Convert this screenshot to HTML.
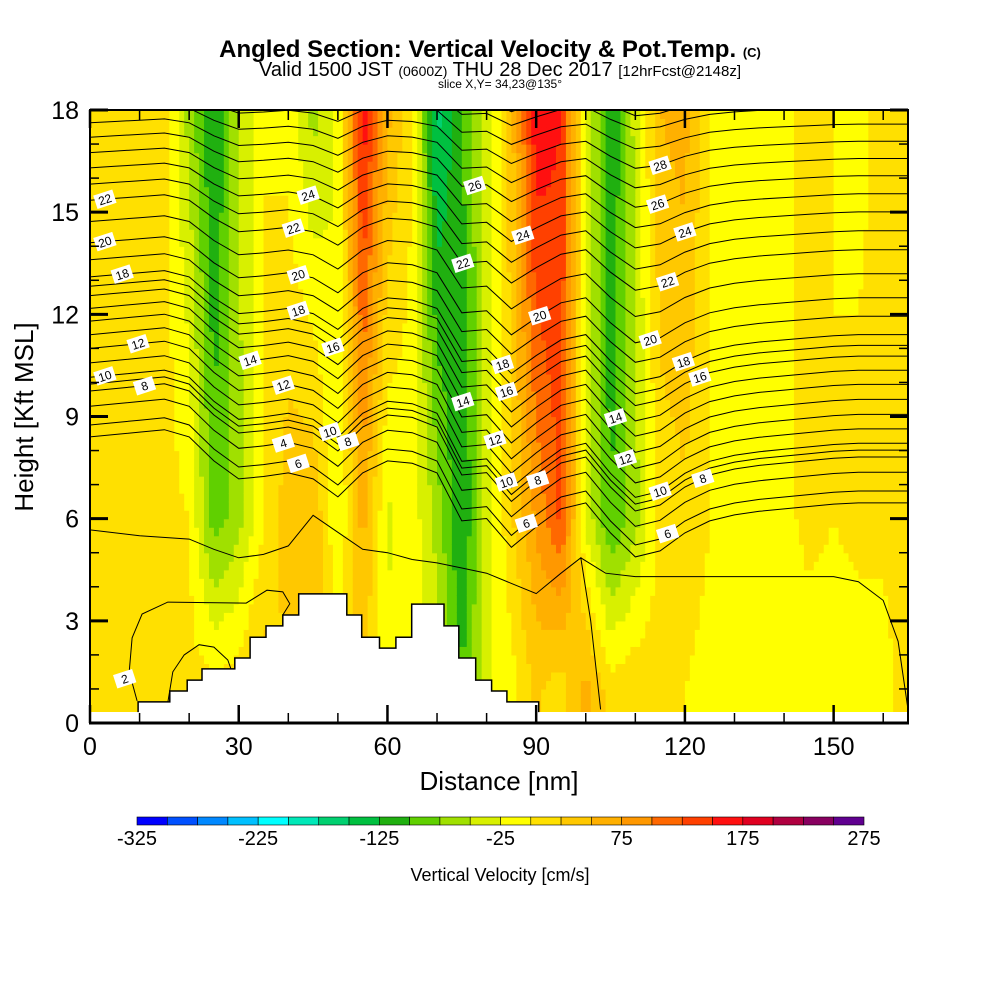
<!DOCTYPE html>
<html><head><meta charset="utf-8">
<style>
html,body{margin:0;padding:0;background:#fff;}
svg{display:block;font-family:"Liberation Sans",sans-serif;}
</style></head>
<body>
<svg id="chart" width="1000" height="1000" viewBox="0 0 1000 1000" xmlns="http://www.w3.org/2000/svg">
<defs><clipPath id="plotclip"><rect x="90" y="110" width="818" height="602"/></clipPath></defs>
<rect width="1000" height="1000" fill="#fff"/>
<g>
<text x="490" y="57" text-anchor="middle" font-size="24" font-weight="bold">Angled Section: Vertical Velocity &amp; Pot.Temp. <tspan font-size="13">(C)</tspan></text>
<text x="500" y="76" text-anchor="middle" font-size="20">Valid 1500 JST <tspan font-size="14">(0600Z)</tspan> THU 28 Dec 2017 <tspan font-size="15">[12hrFcst@2148z]</tspan></text>
<text x="500" y="88" text-anchor="middle" font-size="12">slice X,Y= 34,23@135°</text>
</g>
<g id="field" clip-path="url(#plotclip)"></g>
<g id="contours" clip-path="url(#plotclip)"></g>
<g id="terrain"></g>
<g id="labels" clip-path="url(#plotclip)"></g>
<g id="axes"></g>
<text x="499" y="790" text-anchor="middle" font-size="26">Distance [nm]</text>
<text transform="translate(33,417) rotate(-90)" text-anchor="middle" font-size="26">Height [Kft MSL]</text>
<g id="colorbar"></g>
<text x="500" y="881" text-anchor="middle" font-size="18">Vertical Velocity [cm/s]</text>
</svg>
<script>
// ---- data ----
const profileNm = [0,5,10,15,20,25,30,35,40,45,50,55,60,65,70,75,80,85,90,95,100,105,110,115,120,125,130,135,140,145,150,155,160,165];
const upperW = [10,10,15,10,-60,-130,-50,0,-10,-60,-20,170,60,0,-160,-100,-40,40,170,150,-20,-130,-40,50,60,0,-10,-5,-5,5,0,-5,5,5];
const lowerW = [15,15,10,10,0,-90,-60,0,40,50,-30,60,-30,-10,-60,-130,-40,20,80,130,-30,-100,-60,10,20,0,-10,-5,-5,5,0,5,5,20];
const bottomW = [15,15,15,15,10,10,15,40,15,50,20,30,-20,0,-30,-100,-30,-10,30,10,60,10,20,10,0,-10,-10,-10,-10,-10,-10,-10,-10,10];
const thetaDisp = [0,-2,-4,-6,0,20,35,33,30,35,50,30,20,22,30,70,68,92,75,60,55,80,100,95,80,70,65,62,60,58,56,55,55,55];
const thetaBaseLevels = [4,5,6,7,8,9,10,12,14,16,18,20,22,24,26,28,30,32];
const thetaBaseHeight = [9.3,8.4,8.75,9.3,9.75,9.95,10.15,11.0,11.8,12.55,13.1,14.1,15.35,16.3,17.2,18.05,18.9,19.7];
const labelTheta = [22,20,18,12,10,8,14,12,22,20,18,24,16,10,8,6,4,26,24,22,20,18,16,14,12,10,8,6,28,26,24,22,20,18,16,14,12,10,8,6];
const labelNm = [3,3,6.5,9.7,3,11,32.3,39,41,42,42,44,49,48.4,52,42,39,77.6,87.3,75.2,90.7,83.2,84,75.2,81.7,84,90.3,88,115,114.5,120,116.5,113,119.7,123,106,108,115,123.6,116.5];
const low4Nm = [0,10,20,25,30,35,40,45,50,55,60,65,70,75,80,85,90,95,99,101,103];
const low4Kft = [5.67,5.5,5.4,5.1,4.85,4.95,5.2,6.1,5.6,5.1,5.0,4.8,4.7,4.55,4.4,4.1,3.8,4.4,4.85,3.0,0.4];
const low4bNm = [99,104,110,120,130,140,150,155,160,163,165];
const low4bKft = [4.85,4.4,4.3,4.3,4.3,4.3,4.3,4.15,3.6,2.4,0.4];
const low2Nm = [9.5,7.9,8.5,10.5,15.7,31.5,35.7,38.9,40.3,38.9];
const low2Kft = [0.65,1.5,2.5,3.2,3.55,3.52,3.9,3.85,3.5,3.17];
const low3Nm = [15.7,16.7,19,22,25,27.8,28.4];
const low3Kft = [0.6,1.5,2.0,2.3,2.23,1.85,1.6];
const terrainNm = [0,9.7,16.1,19.6,22.6,29.2,32.3,35.5,38.9,42.1,51.8,54.8,58.4,61.7,64.9,71.4,74.4,77.8,81,84.1,90.5,165];
const terrainKft = [0.32,0.62,0.94,1.26,1.59,1.91,2.52,2.85,3.17,3.79,3.17,2.52,2.2,2.52,3.49,2.85,1.91,1.26,0.94,0.62,0.32,0.32];
const xTicks = [0,30,60,90,120,150];
const yTicks = [0,3,6,9,12,15,18];
const cbarLabels = [-325,-225,-125,-25,75,175,275];
const palette = ["#0000ff","#0050ff","#0088ff","#00c0ff","#00ffff","#00e8b8","#00d070","#00c040","#20b010","#60d000","#a0e000","#d8f000","#ffff00","#ffe000","#ffc800","#ffb000","#ff9800","#ff6800","#ff4000","#ff1010","#e00020","#b00040","#880060","#600090"];

// ---- scales ----
const X = nm => 90 + nm * (818/165);
const Y = k => 723 - k * (613/18);
const NS = "http://www.w3.org/2000/svg";
function mk(tag, attrs, parent){const e=document.createElementNS(NS,tag);for(const k in attrs)e.setAttribute(k,attrs[k]);parent.appendChild(e);return e;}
function interp(xs, ys, x){
  if(x<=xs[0])return ys[0];
  for(let i=1;i<xs.length;i++){if(x<=xs[i]){const t=(x-xs[i-1])/(xs[i]-xs[i-1]);return ys[i-1]+t*(ys[i]-ys[i-1]);}}
  return ys[ys.length-1];
}
function colorFor(v){let i=Math.floor((v+325)/25);i=Math.max(0,Math.min(palette.length-1,i));return palette[i];}

// ---- field ----
const field=document.getElementById('field');
const dn=1, dk=0.25;
for(let nm=0;nm<165;nm+=dn){
  const c=nm+dn/2;
  const u=interp(profileNm,upperW,c), l=interp(profileNm,lowerW,c), b=interp(profileNm,bottomW,c);
  for(let k=0;k<18;k+=dk){
    const kc=k+dk/2;let v;
    if(kc<=1)v=b;else if(kc<=6)v=b+(l-b)*(kc-1)/5;else v=l+(u-l)*(kc-6)/12;
    const r=mk('rect',{x:X(nm).toFixed(2),y:Y(k+dk).toFixed(2),width:(X(nm+dn)-X(nm)+0.6).toFixed(2),height:(Y(k)-Y(k+dk)+0.6).toFixed(2),fill:colorFor(v)},field);
    
    
  }
}

// ---- contours ----
const cont=document.getElementById('contours');
function amp(th){if(th<=12)return 1.2;if(th<=20)return 1.2-0.2*(th-12)/8;return Math.max(0.5,1.0-0.5*(th-20)/10);}
function thetaY(th,nm){return Y(interp(thetaBaseLevels,thetaBaseHeight,th))+interp(profileNm,thetaDisp,nm)*amp(th);}
for(let th=5;th<=32;th+=1){
  let d='';
  for(let i=0;i<profileNm.length;i++){d+=(i?'L':'M')+X(profileNm[i]).toFixed(1)+','+thetaY(th,profileNm[i]).toFixed(1);}
  const p=mk('path',{d:d,fill:'none',stroke:'#000','stroke-width':1},cont);
  
  
}
function lowLine(nms,ks){
  let d='';for(let i=0;i<nms.length;i++)d+=(i?'L':'M')+X(nms[i]).toFixed(1)+','+Y(ks[i]).toFixed(1);
  const p=mk('path',{d:d,fill:'none',stroke:'#000','stroke-width':1},cont);
  
  
}
lowLine(low4Nm,low4Kft);lowLine(low4bNm,low4bKft);lowLine(low2Nm,low2Kft);lowLine(low3Nm,low3Kft);

// ---- terrain ----
const ter=document.getElementById('terrain');
let td='M'+X(0)+','+Y(0);
let od='';
for(let i=0;i<terrainNm.length-1;i++){
  td+='L'+X(terrainNm[i]).toFixed(1)+','+Y(terrainKft[i]).toFixed(1)+'L'+X(terrainNm[i+1]).toFixed(1)+','+Y(terrainKft[i]).toFixed(1);
  if(i>0&&i<terrainNm.length-2){od+=(od?'L':'M')+X(terrainNm[i]).toFixed(1)+','+Y(terrainKft[i-1]).toFixed(1)+'L'+X(terrainNm[i]).toFixed(1)+','+Y(terrainKft[i]).toFixed(1)+'L'+X(terrainNm[i+1]).toFixed(1)+','+Y(terrainKft[i]).toFixed(1);}
}
od+='L'+X(terrainNm[terrainNm.length-2]).toFixed(1)+','+Y(terrainKft[terrainNm.length-2]).toFixed(1);
td+='L'+X(165)+','+Y(0)+'Z';
const tp=mk('path',{d:td,fill:'#fff',stroke:'none'},ter);


const to=mk('path',{d:od,fill:'none',stroke:'#000','stroke-width':1.5},ter);



// ---- contour labels ----
const lab=document.getElementById('labels');
function addLabel(txt,x,y){
  const g=mk('g',{transform:'translate('+x.toFixed(1)+','+y.toFixed(1)+') rotate(-18)'},lab);
  
  
  mk('rect',{x:-10,y:-7,width:20,height:14,fill:'#fff'},g);
  const t=mk('text',{x:0,y:4.5,'text-anchor':'middle','font-size':12},g);t.textContent=txt;
}
for(let i=0;i<labelTheta.length;i++){
  const th=labelTheta[i],nm=labelNm[i];
  let y;
  if(th<=4) y = nm<60 ? thetaY(4,nm) : Y(interp(low4Nm,low4Kft,nm));
  else y=thetaY(th,nm);
  addLabel(String(th),X(nm),y);
}
addLabel('2',X(7),Y(1.3));

// ---- axes ----
const ax=document.getElementById('axes');
function ln(x1,y1,x2,y2,w,name){const l=mk('line',{x1:x1,y1:y1,x2:x2,y2:y2,stroke:'#000','stroke-width':w},ax);}
ln(90,110,90,724,2,'y-axis-line');ln(908,110,908,724,2,'y-axis-line-right');
ln(89,110,909,110,2,'x-axis-line-top');ln(89,723,909,723,3,'x-axis-line');
for(let k=0;k<=18;k+=1){const maj=k%3===0,len=maj?18:9;ln(90,Y(k),90+len,Y(k),maj?3:1.5,'y-tick');ln(908,Y(k),908-len,Y(k),maj?3:1.5,'y-tick-right');}
for(let n=0;n<=160;n+=10){const maj=n%30===0,len=maj?18:10;ln(X(n),723,X(n),723-len,maj?2.5:1.5,'x-tick');ln(X(n),110,X(n),110+len,maj?2.5:1.5,'x-tick-top');}
yTicks.forEach(v=>{const t=mk('text',{x:79,y:Y(v)+9,'text-anchor':'end','font-size':25},ax);t.textContent=v;});
xTicks.forEach(v=>{const t=mk('text',{x:X(v),y:755,'text-anchor':'middle','font-size':25},ax);t.textContent=v;});

// ---- colorbar ----
const cb=document.getElementById('colorbar');
const cbx0=137,cbx1=864,bw=(cbx1-cbx0)/palette.length;
palette.forEach((c,i)=>{const r=mk('rect',{x:cbx0+i*bw,y:817,width:bw,height:8,fill:c,stroke:'#000','stroke-width':0.6},cb);});
cbarLabels.forEach(v=>{const t=mk('text',{x:cbx0+(v+325)/25*bw,y:845,'text-anchor':'middle','font-size':20},cb);t.textContent=v;});
</script>
</body></html>
